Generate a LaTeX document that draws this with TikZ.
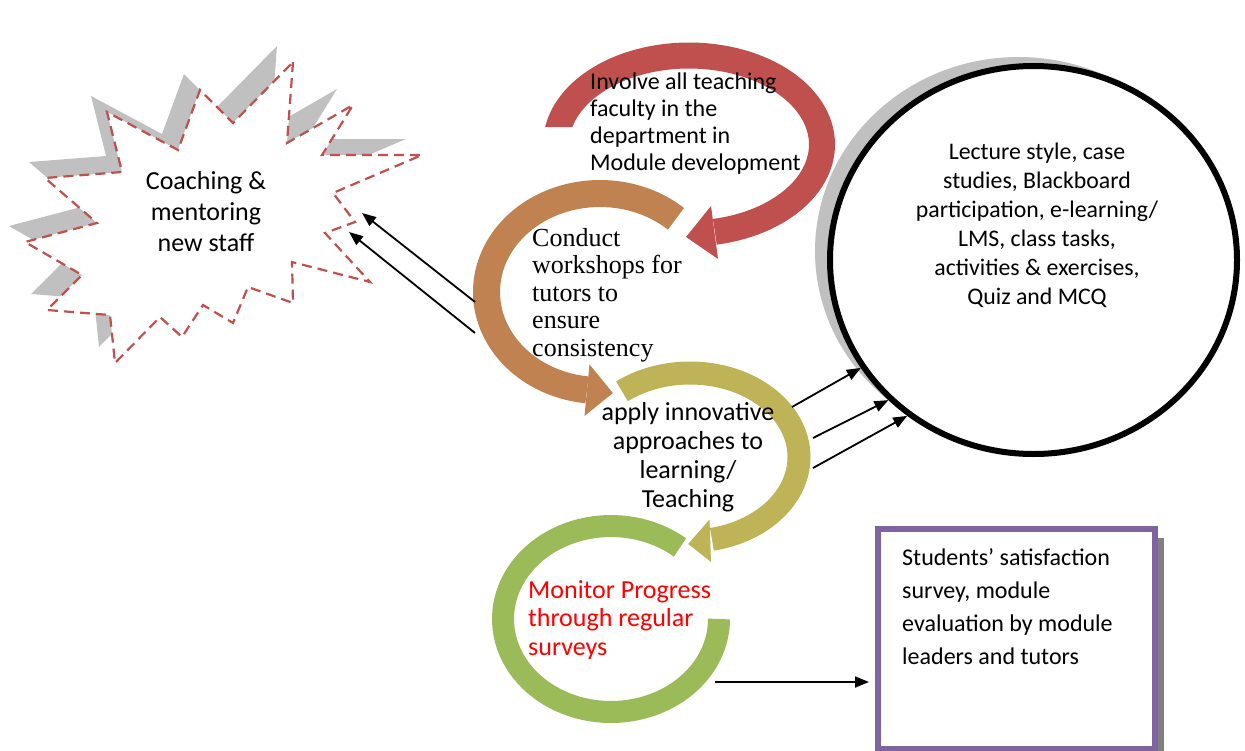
\documentclass[tikz,border=0pt]{standalone}
\usepackage{fontspec}
\setmainfont{Carlito}
\newfontfamily\timesface{Liberation Serif}
\usepackage{tikz}
\usetikzlibrary{positioning}
\usetikzlibrary{arrows.meta}
\usetikzlibrary{shapes.geometric}
\usetikzlibrary{shadows}
\usepackage{xcolor}

\definecolor{ringred}{RGB}{192,80,77}
\definecolor{ringorange}{RGB}{192,130,80}
\definecolor{ringolive}{RGB}{191,179,87}
\definecolor{ringgreen}{RGB}{155,187,89}
\definecolor{boxpurple}{RGB}{128,100,162}
\definecolor{shadowgray}{RGB}{192,192,192}

% outline of the star burst
\newcommand{\burstline}{(293,62) -- (287,143) -- (353,105) -- (322,155) -- (422,155) -- (333,193) -- (355,222) -- (325,233) -- (370,282) -- (292,262) -- (293,303) -- (248,287) -- (233,323) -- (203,305) -- (182,337) -- (160,317) -- (115,363) -- (110,315) -- (47,310) -- (82,275) -- (25,242) -- (97,223) -- (45,178) -- (122,172) -- (107,112) -- (178,150) -- (200,90) -- (233,123) -- cycle}

\begin{document}
\begin{tikzpicture}[x=1pt,y=-1pt,
  conn/.style={line width=1.8pt,-{Triangle[length=14pt,width=11pt]}},
  ringband/.style={line width=#1, line cap=butt}]
\useasboundingbox (0,0) rectangle (1245,750);

% star burst
\fill[shadowgray, shift={(-16,-16)}] \burstline;
\filldraw[fill=white, draw=ringred, line width=2.2pt, dash pattern=on 10pt off 6pt] \burstline;

% cycle of arrows
\begin{scope}
\clip (0,0) rectangle (1245,127) (620,127) rectangle (1245,750);
\draw[ringred, ringband=26] plot[domain=178:438.8, samples=90] ({689+133*cos(\x)},{144.5+89*sin(\x)});
\end{scope}
\fill[ringred] (711,206) -- (718,259) -- (686,237) -- cycle;

\draw[ringorange, ringband=27] plot[domain=48:263.4, samples=90] ({600+113.5*cos(\x)},{292-98.5*sin(\x)});
\fill[ringorange] (589.5,364.4) -- (584.5,416) -- (612.9,393) -- cycle;

\draw[ringolive, ringband=23] plot[domain=-128.6:78.4, samples=90] ({690+109*cos(\x)},{457+84*sin(\x)});
\fill[ringolive] (709.5,519.5) -- (711,562) -- (688.2,544) -- cycle;

\draw[ringgreen, ringband=22] plot[domain=50.3:360, samples=90] ({611+108*cos(\x)},{619-93*sin(\x)});

% texts of the cycle
\node[font=\fontsize{26}{31}\selectfont, align=center, inner sep=0] (coach) at (206,212) {Coaching \&\\mentoring\\new staff};
\node[anchor=west, font=\fontsize{24}{27}\selectfont, align=left, inner sep=0] (involve) at (590,124) {Involve all teaching\\faculty in the\\department in\\Module development};
\node[anchor=west, font=\timesface\fontsize{26}{27.5}\selectfont, align=left, inner sep=0] (workshop) at (532,295) {Conduct\\workshops for\\tutors to\\ensure\\consistency};
\node[font=\fontsize{26}{29}\selectfont, align=center, inner sep=0] (innov) at (688,457) {apply innovative\\approaches to\\learning/\\Teaching};
\node[anchor=west, font=\fontsize{26}{28.5}\selectfont, text=red, align=left, inner sep=0] (monitor) at (528,620) {Monitor Progress\\through regular\\surveys};

% teaching methods
\node[ellipse, draw, line width=6pt, fill=white, minimum width=407, minimum height=388, inner sep=0,
  drop shadow={shadow xshift=-15pt, shadow yshift=9pt, fill=shadowgray, opacity=1}] (methods) at (1033.5,260) {};
\node[font=\fontsize{23.8}{29}\selectfont, align=center, inner sep=0] (methodstext) at (1037,225) {Lecture style, case\\studies, Blackboard\\participation, e-learning/\\LMS, class tasks,\\activities \& exercises,\\Quiz and MCQ};

% surveys
\node[draw=boxpurple, line width=6pt, fill=white, minimum width=277, minimum height=220, inner sep=0,
  drop shadow={shadow xshift=9pt, shadow yshift=-9pt, fill=gray, opacity=1}] (survey) at (1016.5,639) {};
\node[anchor=west, font=\fontsize{24}{33}\selectfont, align=left, inner sep=0] (surveytext) at (902,607) {Students’ satisfaction\\survey, module\\evaluation by module\\leaders and tutors};

% connectors
\coordinate (burstA) at (362,213);
\coordinate (burstB) at (349,232);
\coordinate (workshopA) at (475,302);
\coordinate (workshopB) at (475,333);
\draw[conn] (workshopA) -- (burstA);
\draw[conn] (workshopB) -- (burstB);

\coordinate (innovA) at (792,407);
\coordinate (innovB) at (813,438);
\coordinate (innovC) at (813,468);
\draw[conn] (innovA) -- (methods.212);
\draw[conn] (innovB) -- (methods.224);
\draw[conn] (innovC) -- (methods.231);

\coordinate (monitorout) at (715,682);
\draw[conn, shorten >=6pt] (monitorout) -- (monitorout -| survey.west);

\end{tikzpicture}
\end{document}
